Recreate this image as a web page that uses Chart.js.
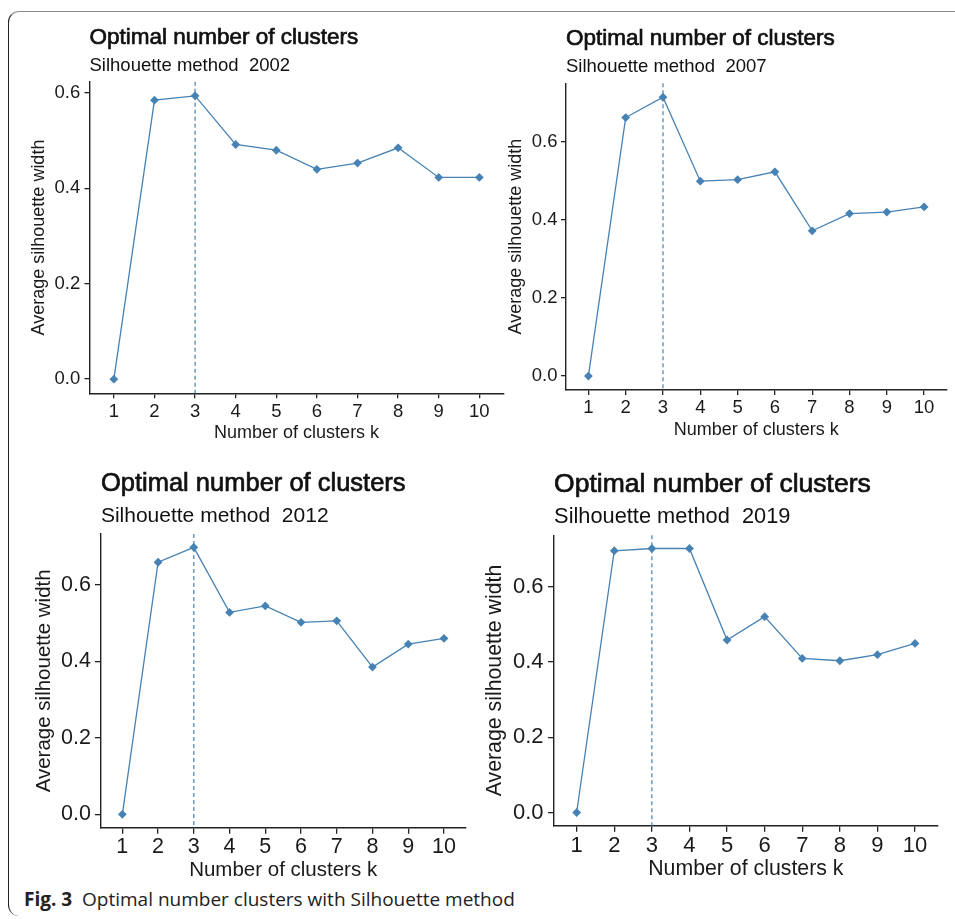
<!DOCTYPE html>
<html lang="en">
<head>
<meta charset="UTF-8">
<title>Optimal number of clusters</title>
<style>
  body { margin: 0; background: #fff; width: 955px; height: 919px; overflow: hidden; position: relative; }
  .frame { position: absolute; left: 8px; top: 11px; width: 980px; height: 904px;
           border-top: 1.5px solid #8c8c8c; border-left: 1.5px solid #222; border-radius: 11px 0 0 11px; }
  .panel { position: absolute; }
  .caption { position: absolute; left: 24px; top: 887px; font-family: "Open Sans", "Noto Sans", sans-serif;
             font-size: 19px; line-height: 24px; color: #222; white-space: nowrap; }
  .caption b { font-weight: 700; }
</style>
</head>
<body>
<div class="frame"></div>
<div class="panel" style="left:0px;top:0px;width:520px;height:444px"><canvas id="c2002"></canvas></div>
<div class="panel" style="left:480px;top:0px;width:475px;height:441px"><canvas id="c2007"></canvas></div>
<div class="panel" style="left:0px;top:460px;width:480px;height:423px"><canvas id="c2012"></canvas></div>
<div class="panel" style="left:480px;top:460px;width:475px;height:422px"><canvas id="c2019"></canvas></div>
<div class="caption"><b>Fig. 3</b>&nbsp; Optimal number clusters with Silhouette method</div>

<script src="https://cdn.jsdelivr.net/npm/chart.js"></script>
<script>
// data
const clustersK = [1, 2, 3, 4, 5, 6, 7, 8, 9, 10];
const sil2002 = [0, 0.585, 0.594, 0.492, 0.480, 0.440, 0.453, 0.485, 0.423, 0.423];
const sil2007 = [0, 0.662, 0.714, 0.499, 0.503, 0.523, 0.372, 0.416, 0.420, 0.433];
const sil2012 = [0, 0.659, 0.698, 0.528, 0.545, 0.502, 0.506, 0.385, 0.445, 0.460];
const sil2019 = [0, 0.695, 0.701, 0.701, 0.458, 0.520, 0.409, 0.403, 0.419, 0.449];
const yTickValues = [0, 0.2, 0.4, 0.6];
const optimalK = 3;

const titleText = 'Optimal number of clusters';
const subtitleText = 'Silhouette method  ';
const xTitle = 'Number of clusters k';
const yTitle = 'Average silhouette width';

const FONT = '"Liberation Sans", Arial, sans-serif';
const LINE = '#4682b4';
const INK = '#1a1a1a';

// page layout of each panel (left/top/width/height of the canvas box, plot area edges)
const panels = [
  { id: 'c2002', year: '2002', values: sil2002, left: 0, top: 0, width: 520, height: 444,
    cL: 89.5, cR: 503.7, cT: 81.7, cB: 393.3, titleY: 44, subY: 70.7,
    fTitle: 22.5, fSub: 18.5, fAxis: 18, fTick: 18.5, tickLen: 5, xPad: 2.6, yPad: 4.3, yTitlePad: 28.2 },
  { id: 'c2007', year: '2007', values: sil2007, left: 480, top: 0, width: 475, height: 441,
    cL: 566, cR: 946.5, cT: 83.3, cB: 390, titleY: 45, subY: 71.7,
    fTitle: 22.5, fSub: 18.5, fAxis: 18, fTick: 18.5, tickLen: 5, xPad: 1.9, yPad: 3.5, yTitlePad: 25.2 },
  { id: 'c2012', year: '2012', values: sil2012, left: 0, top: 460, width: 480, height: 423,
    cL: 100.9, cR: 465.4, cT: 534, cB: 827.7, titleY: 490.7, subY: 521.7,
    fTitle: 25.5, fSub: 21, fAxis: 20.5, fTick: 21.5, tickLen: 6, xPad: 0.3, yPad: 4, yTitlePad: 32.3 },
  { id: 'c2019', year: '2019', values: sil2019, left: 480, top: 460, width: 475, height: 422,
    cL: 554.1, cR: 937.6, cT: 535.3, cB: 825.7, titleY: 492, subY: 523.3,
    fTitle: 26.5, fSub: 21.8, fAxis: 21.3, fTick: 22, tickLen: 6, xPad: 0.6, yPad: 4.6, yTitlePad: 2.2 }
];

// title + subtitle aligned to the plot's left edge, like ggplot
const panelTitles = {
  id: 'panelTitles',
  afterDraw(chart, args, o) {
    const ctx = chart.ctx;
    const x = chart.chartArea.left;
    ctx.save();
    ctx.fillStyle = '#111';
    ctx.strokeStyle = '#111';
    ctx.textAlign = 'left';
    ctx.textBaseline = 'alphabetic';
    ctx.font = o.fTitle + 'px ' + FONT;
    ctx.fillText(o.title, x, o.titleY);
    ctx.lineWidth = 0.7;
    ctx.strokeText(o.title, x, o.titleY);   // the source title renders a little heavier
    ctx.font = o.fSub + 'px ' + FONT;
    ctx.fillText(o.subtitle, x, o.subY);
    ctx.restore();
  }
};

// dashed vertical line at the optimal k
const vline = {
  id: 'vline',
  beforeDatasetsDraw(chart, args, o) {
    const ctx = chart.ctx;
    const x = chart.scales.x.getPixelForValue(o.value);
    ctx.save();
    ctx.strokeStyle = LINE;
    ctx.lineWidth = 1.2;
    ctx.setLineDash([4, 3]);
    ctx.beginPath();
    ctx.moveTo(x, chart.chartArea.top);
    ctx.lineTo(x, chart.chartArea.bottom);
    ctx.stroke();
    ctx.restore();
  }
};

panels.forEach(p => {
  const yMax = Math.max(...p.values);
  const yAxisW = p.cL - p.left;
  const xAxisH = p.height - (p.cB - p.top);
  const axisGrid = { display: true, drawOnChartArea: false, drawTicks: true, tickLength: p.tickLen, color: '#222', lineWidth: 1.3 };
  const axisBorder = { display: true, color: '#222', width: 1.4 };

  new Chart(document.getElementById(p.id), {
    type: 'line',
    data: {
      datasets: [{
        data: clustersK.map((k, i) => ({ x: k, y: p.values[i] })),
        borderColor: LINE,
        backgroundColor: LINE,
        borderWidth: 1.3,
        pointStyle: 'rectRot',
        pointRadius: 4.4,
        pointBorderWidth: 0,
        tension: 0
      }]
    },
    options: {
      responsive: true,
      maintainAspectRatio: false,
      animation: false,
      events: [],
      layout: { padding: { top: p.cT - p.top, left: 0, right: p.width - (p.cR - p.left), bottom: 0 } },
      plugins: {
        legend: { display: false },
        tooltip: { enabled: false },
        panelTitles: { title: titleText, subtitle: subtitleText + p.year, titleY: p.titleY - p.top, subY: p.subY - p.top, fTitle: p.fTitle, fSub: p.fSub },
        vline: { value: optimalK }
      },
      scales: {
        x: {
          type: 'linear',
          min: 0.4, max: 10.6,
          grid: axisGrid,
          border: axisBorder,
          afterBuildTicks: s => { s.ticks = clustersK.map(v => ({ value: v })); },
          afterFit: s => { s.height = xAxisH; },
          ticks: { autoSkip: false, maxRotation: 0, padding: p.xPad, color: INK, font: { family: FONT, size: p.fTick } },
          title: { display: true, text: xTitle, color: INK, padding: { top: 0, bottom: 0 }, font: { family: FONT, size: p.fAxis } }
        },
        y: {
          min: -0.05 * yMax, max: 1.05 * yMax,
          grid: axisGrid,
          border: axisBorder,
          afterBuildTicks: s => { s.ticks = yTickValues.map(v => ({ value: v })); },
          afterFit: s => { s.width = yAxisW; },
          ticks: { padding: p.yPad, color: INK, font: { family: FONT, size: p.fTick }, callback: v => v.toFixed(1) },
          title: { display: true, text: yTitle, color: INK, padding: { top: p.yTitlePad, bottom: 0 }, font: { family: FONT, size: p.fAxis } }
        }
      }
    },
    plugins: [panelTitles, vline]
  });
});
</script>
</body>
</html>
